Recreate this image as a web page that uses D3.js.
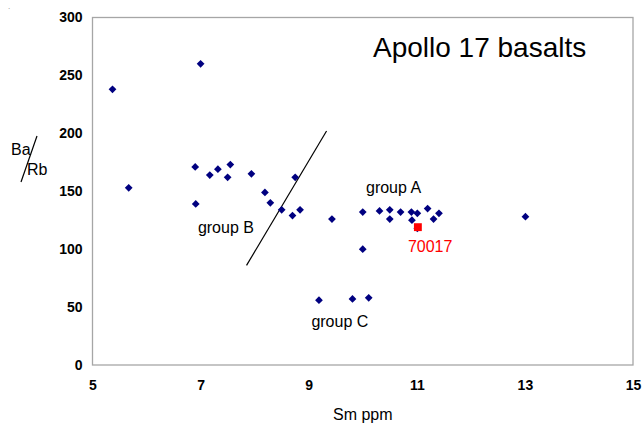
<!DOCTYPE html>
<html lang="en">
<head>
  <meta charset="UTF-8">
  <title>Apollo 17 basalts</title>
  <script src="https://cdn.jsdelivr.net/npm/d3@7"></script>
  <style>
    body { margin: 0; background: #fff; }
    text { font-family: Arial, "Liberation Sans", sans-serif; }
  </style>
</head>
<body>
  <div id="app"></div>
<script>
  // basalt samples: Sm ppm vs Ba/Rb
  const smPpm = [5.37, 5.67, 7.00, 6.90, 7.17, 7.32, 7.55, 7.50, 7.94, 6.91,
    8.19, 8.29, 8.75, 8.50, 8.70, 8.84, 9.43, 10.00, 10.31, 10.50,
    10.50, 10.70, 10.90, 11.01, 10.91, 11.20, 11.41, 11.31, 13.01, 11.01,
    10.00, 9.19, 9.81, 10.11];
  const baRb = [238, 153, 260, 171, 164, 169, 173, 162, 165, 139,
    149, 140, 162, 134, 129, 134, 126, 132, 133, 134,
    126, 132, 132, 131, 125, 135, 131, 126, 128, 118,
    100, 56, 57, 58];

  // sample 70017 (red)
  const redSm = [11.02];
  const redBaRb = [119];

  // divider line between group B and group A
  const lineSm = [7.85, 9.33];
  const lineBaRb = [86, 202];

  const xTicks = [5, 7, 9, 11, 13, 15];
  const yTicks = [0, 50, 100, 150, 200, 250, 300];

  const groupLabels = ['group A', 'group B', 'group C'];
  const groupSm = [10.06, 6.95, 9.05];
  const groupBaRb = [148.5, 114, 33];

  const w = 643, h = 428;
  const padL = 92.5, padR = 633, padT = 17.5, padB = 365;

  const svg = d3.select('#app').append('svg')
    .attr('width', w)
    .attr('height', h);

  const x = d3.scaleLinear().domain([5, 15]).range([padL, padR]);
  const y = d3.scaleLinear().domain([0, 300]).range([padB, padT]);

  // frame
  svg.append('rect')
    .attr('x', x(5)).attr('y', y(300))
    .attr('width', x(15) - x(5)).attr('height', y(0) - y(300))
    .attr('fill', 'none').attr('stroke', '#a6a6a6').attr('stroke-width', 1.3);

  const xAxis = svg.append('g')
    .attr('transform', `translate(0, ${padB})`)
    .call(d3.axisBottom(x).tickValues(xTicks).tickSize(0).tickPadding(15));
  const yAxis = svg.append('g')
    .attr('transform', `translate(${padL}, 0)`)
    .call(d3.axisLeft(y).tickValues(yTicks).tickSize(0).tickPadding(10));
  [xAxis, yAxis].forEach(g => {
    g.select('.domain').remove();
    g.selectAll('text')
      .attr('font-family', 'Arial, "Liberation Sans", sans-serif')
      .attr('font-size', 14).attr('font-weight', 'bold').attr('fill', '#000');
  });

  // divider line
  svg.append('line')
    .attr('x1', x(lineSm[0])).attr('y1', y(lineBaRb[0]))
    .attr('x2', x(lineSm[1])).attr('y2', y(lineBaRb[1]))
    .attr('stroke', '#000').attr('stroke-width', 1.2);

  const diamond = d3.symbol().type(d3.symbolSquare).size(30);
  svg.selectAll('path.pt')
    .data(smPpm.map((d, i) => [d, baRb[i]]))
    .enter()
    .append('path')
    .attr('class', 'pt')
    .attr('d', diamond)
    .attr('transform', d => `translate(${x(d[0])},${y(d[1])}) rotate(45)`)
    .attr('fill', '#000080');

  svg.selectAll('path.red')
    .data(redSm.map((d, i) => [d, redBaRb[i]]))
    .enter()
    .append('path')
    .attr('class', 'red')
    .attr('d', d3.symbol().type(d3.symbolSquare).size(62))
    .attr('transform', d => `translate(${x(d[0])},${y(d[1])})`)
    .attr('fill', '#ff0000');

  svg.selectAll('text.grp')
    .data(groupLabels)
    .enter()
    .append('text')
    .attr('class', 'grp')
    .attr('x', (d, i) => x(groupSm[i]))
    .attr('y', (d, i) => y(groupBaRb[i]))
    .attr('font-size', 16)
    .text(d => d);

  svg.append('text')
    .attr('x', x(redSm[0]) - 10).attr('y', 252)
    .attr('font-size', 16).attr('fill', '#ff0000')
    .text('70017');

  svg.append('text')
    .attr('x', 373).attr('y', 57)
    .attr('font-size', 28)
    .text('Apollo 17 basalts');

  svg.append('text')
    .attr('x', (padL + padR) / 2).attr('y', 420)
    .attr('text-anchor', 'middle')
    .attr('font-size', 16)
    .text('Sm ppm');

  // y label Ba/Rb with slash
  svg.append('text').attr('x', 11).attr('y', 155).attr('font-size', 16).text('Ba');
  svg.append('text').attr('x', 27).attr('y', 175).attr('font-size', 16).text('Rb');
  svg.append('line')
    .attr('x1', 37).attr('y1', 136).attr('x2', 21).attr('y2', 182)
    .attr('stroke', '#000').attr('stroke-width', 1.2);

  svg.append('text').attr('x', 8).attr('y', 9).attr('font-size', 8).attr('fill', '#888').text('.');
</script>
</body>
</html>
